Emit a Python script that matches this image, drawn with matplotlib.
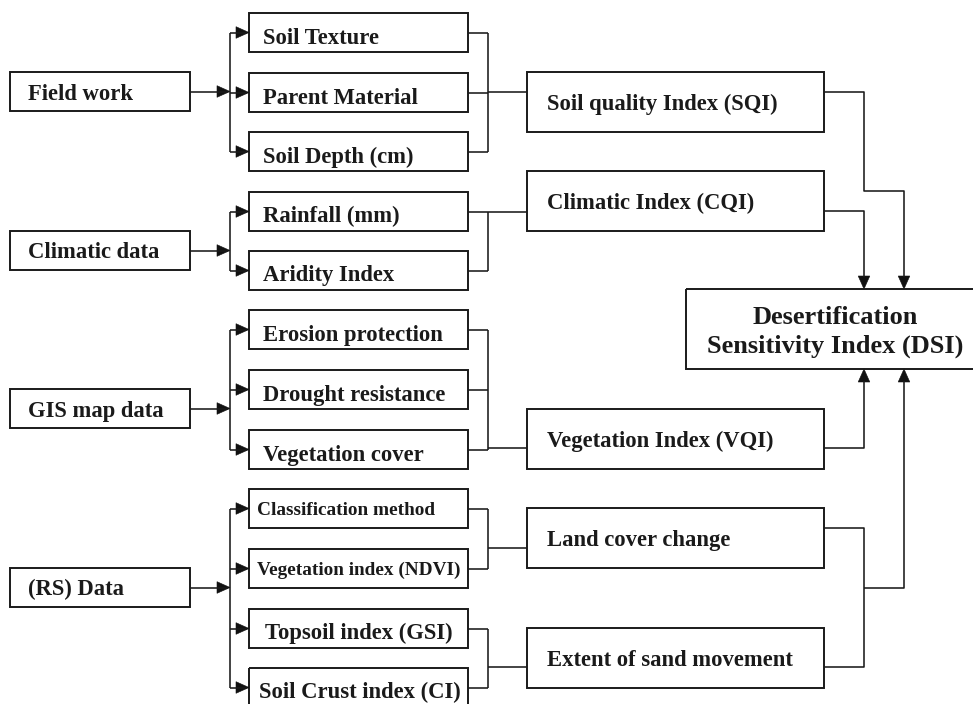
import matplotlib.pyplot as plt
from matplotlib.patches import Rectangle, Polygon

plt.rcParams['font.family'] = ['Liberation Serif', 'DejaVu Serif']

# ───────── boxes of the diagram ─────────
sources = ['Field work', 'Climatic data', 'GIS map data', '(RS) Data']
source_top = [72, 231, 389, 568]

inputs = ['Soil Texture', 'Parent Material', 'Soil Depth (cm)',
          'Rainfall (mm)', 'Aridity Index',
          'Erosion protection', 'Drought resistance', 'Vegetation cover',
          'Classification method', 'Vegetation index (NDVI)',
          'Topsoil index (GSI)', 'Soil Crust index (CI)']
input_top = [13, 73, 132, 192, 251, 310, 370, 430, 489, 549, 609, 668]
input_source = [0, 0, 0, 1, 1, 2, 2, 2, 3, 3, 3, 3]
input_group = [0, 0, 0, 1, 1, 2, 2, 2, 3, 3, 4, 4]
input_font = [16.3] * 8 + [13.9, 13.9, 16.3, 16.3]
input_textx = [263] * 8 + [257, 257, 265, 259]

indices = ['Soil quality Index (SQI)', 'Climatic Index (CQI)',
           'Vegetation Index (VQI)', 'Land cover change',
           'Extent of sand movement']
index_top = [72, 171, 409, 508, 628]
index_in_y = [92, 212, 448, 548, 667]
index_out_y = [92, 211, 448, 528, 667]

dsi_label = 'Desertification\nSensitivity Index (DSI)'

# ───────── layout ─────────
SRC_X, SRC_W, SRC_H = 10, 180, 39
BR_X = 230
IN_X, IN_W, IN_H = 249, 219, 39
JOIN_X = 488
IDX_X, IDX_W, IDX_H = 527, 297, 60
DSI_X, DSI_TOP, DSI_BOT = 686, 289, 369
COL1, COL2 = 864, 904
LW_BOX, LW_LINE = 1.4, 1.15

fig = plt.figure(figsize=(9.73, 7.04), dpi=100)
ax = fig.add_axes([0, 0, 1, 1])
ax.set_xlim(0, 973)
ax.set_ylim(704, 0)
ax.axis('off')


def box(x, y, w, h):
    ax.add_patch(Rectangle((x, y), w, h, fill=False, ec='#1a1a1a', lw=LW_BOX))


def line(xs, ys):
    ax.plot(xs, ys, color='#1a1a1a', lw=LW_LINE, solid_capstyle='butt')


def head(x, y, d):
    L, W = 13, 5.8
    if d == 'right':
        pts = [(x, y), (x - L, y - W), (x - L, y + W)]
    elif d == 'down':
        pts = [(x, y), (x - W, y - L), (x + W, y - L)]
    else:
        pts = [(x, y), (x - W, y + L), (x + W, y + L)]
    ax.add_patch(Polygon(pts, closed=True, fc='#111111', ec='#111111', lw=0.4))


def label(x, y, s, size):
    ax.text(x, y, s, fontsize=size, fontweight='bold', color='#1a1a1a',
            va='baseline', ha='left')


# sources
for name, top in zip(sources, source_top):
    box(SRC_X, top, SRC_W, SRC_H)
    label(28, top + SRC_H / 2 + 8, name, 16.3)
    cy = top + SRC_H / 2
    line([SRC_X + SRC_W, BR_X - 2], [cy, cy])
    head(BR_X, cy, 'right')

# branches from each source to its inputs
for s in range(len(sources)):
    cys = [t + IN_H / 2 for t, k in zip(input_top, input_source) if k == s]
    line([BR_X, BR_X], [min(cys), max(cys)])

# input boxes
for name, top, fs, tx in zip(inputs, input_top, input_font, input_textx):
    box(IN_X, top, IN_W, IN_H)
    cy = top + IN_H / 2
    off = 11 if fs > 15 else 6.5
    label(tx, cy + off, name, fs)
    line([BR_X, IN_X - 2], [cy, cy])
    head(IN_X, cy, 'right')
    line([IN_X + IN_W, JOIN_X], [cy, cy])

# joins to the index boxes
for g in range(len(indices)):
    cys = [t + IN_H / 2 for t, k in zip(input_top, input_group) if k == g]
    line([JOIN_X, JOIN_X], [min(cys), max(cys)])
    line([JOIN_X, IDX_X], [index_in_y[g], index_in_y[g]])

# index boxes
for name, top in zip(indices, index_top):
    box(IDX_X, top, IDX_W, IDX_H)
    label(547, top + IDX_H / 2 + 8, name, 16.3)

R = IDX_X + IDX_W
# SQI -> DSI (outer column)
line([R, COL1, COL1, COL2, COL2], [index_out_y[0], index_out_y[0], 191, 191, DSI_TOP - 12])
head(COL2, DSI_TOP, 'down')
# CQI -> DSI
line([R, COL1, COL1], [index_out_y[1], index_out_y[1], DSI_TOP - 12])
head(COL1, DSI_TOP, 'down')
# VQI -> DSI
line([R, COL1, COL1], [index_out_y[2], index_out_y[2], DSI_BOT + 12])
head(COL1, DSI_BOT, 'up')
# Land cover + sand movement -> DSI
line([R, COL1, COL1, R], [index_out_y[3], index_out_y[3], index_out_y[4], index_out_y[4]])
mid = 588
line([COL1, COL2, COL2], [mid, mid, DSI_BOT + 12])
head(COL2, DSI_BOT, 'up')

# DSI box (runs past the right edge)
box(DSI_X, DSI_TOP, 400, DSI_BOT - DSI_TOP)
ax.text(835, (DSI_TOP + DSI_BOT) / 2 + 3, dsi_label, fontsize=19, fontweight='bold',
        color='#1a1a1a', ha='center', va='center', linespacing=1.3)

fig.savefig('out.png', dpi=100)
